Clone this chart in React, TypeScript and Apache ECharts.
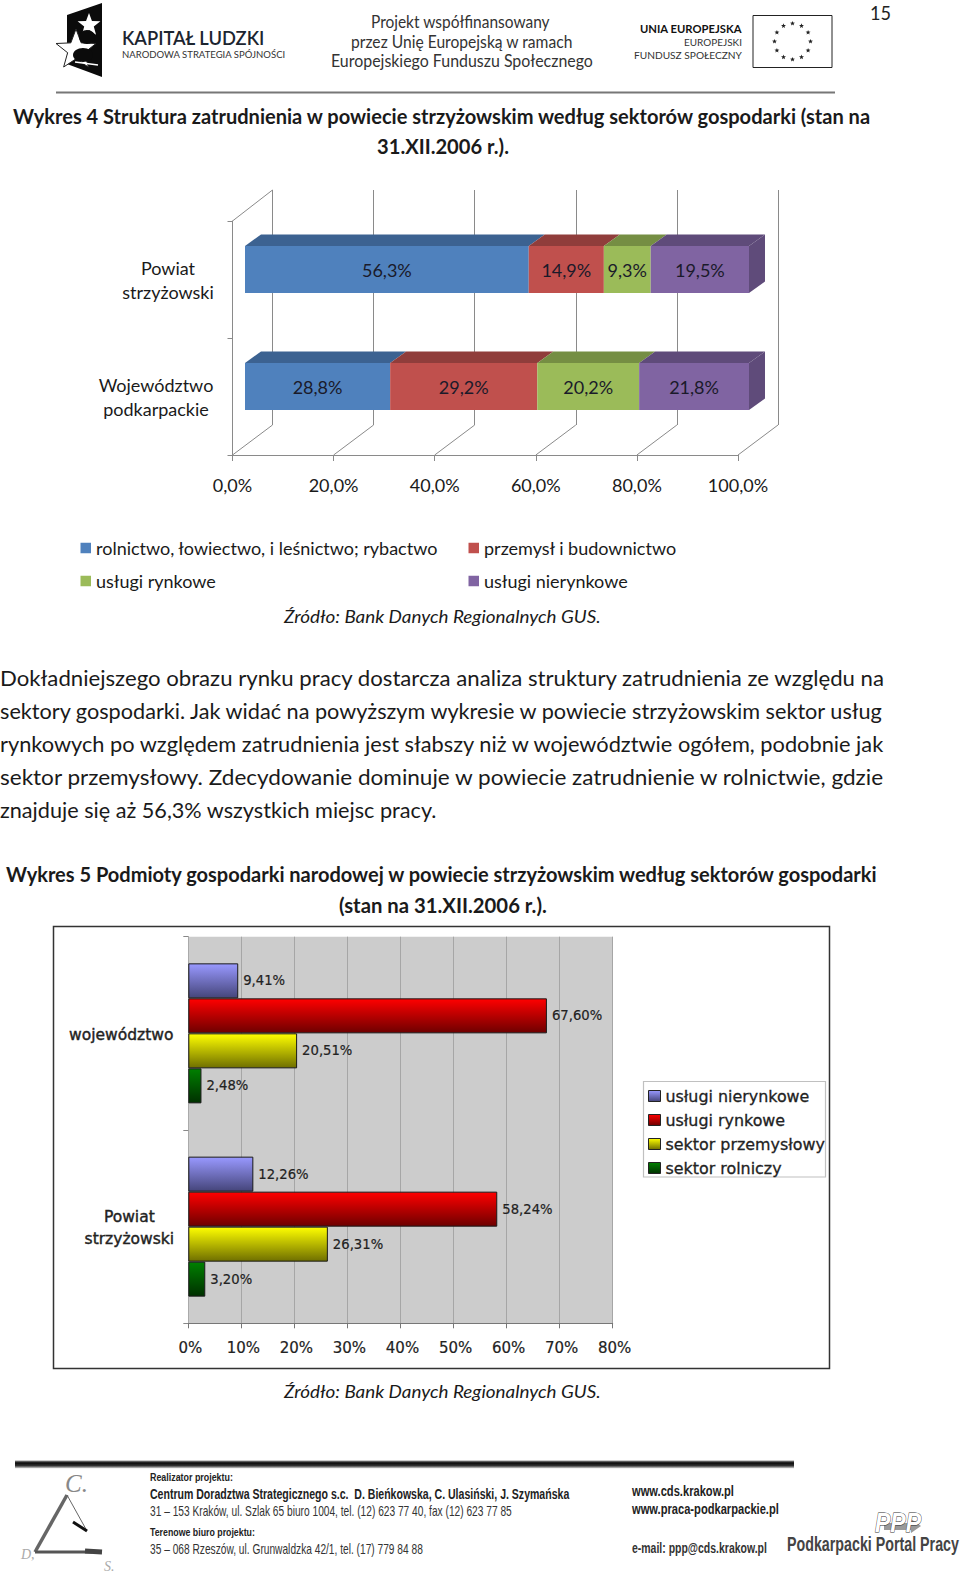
import React, { useEffect, useRef } from "react";
import * as echarts from "echarts";

// ---------- chart 1 data ----------
const areas1 = ["Powiat\nstrzyżowski", "Województwo\npodkarpackie"];
const sectors1 = ["rolnictwo, łowiectwo, i leśnictwo; rybactwo", "przemysł i budownictwo", "usługi rynkowe", "usługi nierynkowe"];
const rolnictwo = [56.3, 28.8];
const przemysl = [14.9, 29.2];
const rynkowe1 = [9.3, 20.2];
const nierynkowe1 = [19.5, 21.8];
const colors1 = ["#4f81bd", "#c0504d", "#9bbb59", "#8064a2"];
const shades1 = ["#3c6291", "#903d3b", "#758e43", "#5f4b7a"];

// ---------- chart 2 data ----------
const areas2 = ["województwo", "Powiat\nstrzyżowski"];
const sectors2 = ["usługi nierynkowe", "usługi rynkowe", "sektor przemysłowy", "sektor rolniczy"];
const nierynkowe2 = [9.41, 12.26];
const rynkowe2 = [67.6, 58.24];
const przemyslowy2 = [20.51, 26.31];
const rolniczy2 = [2.48, 3.2];
const gradStops = [["#9999ff", "#45457a"], ["#ff0000", "#6e0000"], ["#ffff00", "#6f6f00"], ["#008000", "#003000"]];

// ---------- page text ----------
const pageNumber = "15";
const title4 = ["Wykres 4 Struktura zatrudnienia w powiecie strzyżowskim według sektorów gospodarki (stan na", "31.XII.2006 r.)."];
const source = "Źródło: Bank Danych Regionalnych GUS.";
const paragraph = [
  "Dokładniejszego obrazu rynku pracy dostarcza analiza struktury zatrudnienia ze względu na",
  "sektory gospodarki. Jak widać na powyższym wykresie w powiecie strzyżowskim sektor usług",
  "rynkowych po względem zatrudnienia jest słabszy niż w województwie ogółem, podobnie jak",
  "sektor przemysłowy. Zdecydowanie dominuje w powiecie zatrudnienie w rolnictwie, gdzie",
  "znajduje się aż 56,3% wszystkich miejsc pracy.",
];
const title5 = ["Wykres 5 Podmioty gospodarki narodowej w powiecie strzyżowskim według sektorów gospodarki", "(stan na 31.XII.2006 r.)."];

const BODY = "Lato";
const ARIAL = "Liberation Sans";
const WIDE = "DejaVu Sans";
const comma = (v: number, d: number) => v.toFixed(d).replace(".", ",") + "%";

const measureCtx = document.createElement("canvas").getContext("2d")!;
function txt(text: string, x: number, y: number, o: any = {}) {
  const { size = 20, weight = "normal", fstyle = "normal", family = BODY, fill = "#1a1a1a", width, align = "left" } = o;
  let scaleX = 1;
  if (width) {
    measureCtx.font = `${fstyle} ${weight} ${size}px "${family}"`;
    scaleX = width / measureCtx.measureText(text).width;
  }
  return {
    type: "text", x, y, scaleX, z: 5,
    style: { text, fontSize: size, fontWeight: weight, fontStyle: fstyle, fontFamily: family, fill, textAlign: align, textVerticalAlign: "middle" },
  };
}
function star(cx: number, cy: number, r: number, fill: string, stroke?: string) {
  const pts: number[][] = [];
  for (let i = 0; i < 10; i++) {
    const a = -Math.PI / 2 + (i * Math.PI) / 5;
    const rr = i % 2 ? r * 0.42 : r;
    pts.push([cx + rr * Math.cos(a), cy + rr * Math.sin(a)]);
  }
  return { type: "polygon", z: 6, shape: { points: pts }, style: { fill, stroke, lineWidth: stroke ? 1 : 0 } };
}
const line = (x1: number, y1: number, x2: number, y2: number, stroke: string, lineWidth: number) => ({
  type: "line", z: 4, shape: { x1, y1, x2, y2 }, style: { stroke, lineWidth },
});

function pageGraphics() {
  const els: any[] = [];
  // header logos
  els.push({ type: "polygon", z: 4, shape: { points: [[67, 15], [102, 3], [102, 77], [67, 64]] }, style: { fill: "#0b0b0b" } });
  els.push(star(89, 25, 12, "#fff"));
  els.push(star(76, 50, 21, "#fff", "#222"));
  els.push({ type: "ellipse", z: 7, shape: { cx: 87, cy: 37, rx: 8, ry: 7 }, style: { fill: "#0b0b0b" } });
  els.push({ type: "ellipse", z: 7, shape: { cx: 83, cy: 55, rx: 10, ry: 7 }, style: { fill: "#0b0b0b" } });
  els.push(line(75, 62, 98, 65, "#fff", 1.5));
  els[els.length - 1].z = 8;
  els.push(txt("KAPITAŁ LUDZKI", 122, 38, { size: 19, weight: 600, fill: "#1c2530", width: 143 }));
  els.push(txt("NARODOWA STRATEGIA SPÓJNOŚCI", 122, 54, { size: 10, fill: "#333", width: 164 }));
  els.push(txt("Projekt współfinansowany", 371, 21, { size: 17, fill: "#333", width: 179 }));
  els.push(txt("przez Unię Europejską w ramach", 351, 41, { size: 17, fill: "#333", width: 222 }));
  els.push(txt("Europejskiego Funduszu Społecznego", 331, 61, { size: 17, fill: "#333", width: 262 }));
  els.push(txt("UNIA EUROPEJSKA", 640, 29, { size: 11, weight: "bold", fill: "#111", width: 102 }));
  els.push(txt("EUROPEJSKI", 684, 42, { size: 10, fill: "#333", width: 58 }));
  els.push(txt("FUNDUSZ SPOŁECZNY", 634, 55, { size: 10, fill: "#333", width: 108 }));
  els.push({ type: "rect", z: 4, shape: { x: 753, y: 15.5, width: 79, height: 52 }, style: { fill: "#fff", stroke: "#222", lineWidth: 1 } });
  for (let i = 0; i < 12; i++) {
    const a = (i * Math.PI) / 6;
    els.push(star(792.5 + 18 * Math.sin(a), 41.5 - 18 * Math.cos(a), 2.6, "#222"));
  }
  els.push(txt(pageNumber, 870, 12, { size: 20, fill: "#222", width: 21 }));
  els.push(line(56, 92.5, 835, 92.5, "#777", 2));

  // headings & body
  els.push(txt(title4[0], 13, 116, { weight: "bold", width: 859 }));
  els.push(txt(title4[1], 377, 146, { weight: "bold", width: 132 }));
  els.push(txt(source, 284, 616.5, { size: 18, fstyle: "italic", width: 317 }));
  const paraY = [678, 711, 744, 777, 809.5];
  paragraph.forEach((t, i) => els.push(txt(t, 0, paraY[i], { size: 20.5, width: i === 4 ? 437 : 886 })));
  els.push(txt(title5[0], 6, 874.5, { weight: "bold", width: 873 }));
  els.push(txt(title5[1], 339, 905.5, { weight: "bold", width: 208 }));
  els.push(txt(source, 284, 1391.5, { size: 18, fstyle: "italic", width: 317 }));

  // chart 2 frame and legend box
  els.push({ type: "rect", z: -1, shape: { x: 53.5, y: 926.5, width: 776, height: 442 }, style: { fill: "#fff", stroke: "#333", lineWidth: 1.5 } });
  els.push({ type: "rect", z: 1, shape: { x: 643.5, y: 1081.5, width: 182, height: 95.5 }, style: { fill: "#fff", stroke: "#c0c0c0", lineWidth: 1.2 } });

  // footer
  els.push({
    type: "rect", z: 4, shape: { x: 15, y: 1460.5, width: 779, height: 8 },
    style: { fill: new echarts.graphic.LinearGradient(0, 0, 0, 1, [{ offset: 0, color: "#999" }, { offset: 0.3, color: "#0a0a0a" }, { offset: 0.65, color: "#333" }, { offset: 1, color: "#e5e5e5" }]) },
  });
  els.push(txt("C.", 65, 1483, { size: 25, family: "Liberation Serif", fstyle: "italic", fill: "#888" }));
  els.push(line(67, 1495, 35, 1552, "#666", 3.5));
  els.push(line(35, 1552, 92, 1552, "#555", 3));
  els.push(line(85, 1551, 102, 1552, "#444", 5));
  els.push(line(67, 1495, 87, 1531, "#666", 1));
  els.push(line(73, 1522, 87, 1531, "#111", 3));
  els.push(txt("D,", 21, 1554, { size: 14, family: "Liberation Serif", fstyle: "italic", fill: "#aaa" }));
  els.push(txt("S.", 104, 1566, { size: 14, family: "Liberation Serif", fstyle: "italic", fill: "#aaa" }));
  const foot = ARIAL;
  els.push(txt("Realizator projektu:", 150, 1477, { size: 11, weight: "bold", family: foot, fill: "#222", width: 83 }));
  els.push(txt("Centrum Doradztwa Strategicznego s.c.  D. Bieńkowska, C. Ulasiński, J. Szymańska", 150, 1494, { size: 14, weight: "bold", family: foot, fill: "#222", width: 420 }));
  els.push(txt("31 – 153 Kraków, ul. Szlak 65 biuro 1004, tel. (12) 623 77 40, fax (12) 623 77 85", 150, 1511, { size: 14, family: foot, fill: "#333", width: 362 }));
  els.push(txt("Terenowe biuro projektu:", 150, 1532, { size: 11, weight: "bold", family: foot, fill: "#222", width: 105 }));
  els.push(txt("35 – 068 Rzeszów, ul. Grunwaldzka 42/1, tel. (17) 779 84 88", 150, 1549, { size: 14, family: foot, fill: "#333", width: 273 }));
  els.push(txt("www.cds.krakow.pl", 632, 1492, { size: 14, weight: "bold", family: foot, fill: "#222", width: 102 }));
  els.push(txt("www.praca-podkarpackie.pl", 632, 1510, { size: 14, weight: "bold", family: foot, fill: "#222", width: 147 }));
  els.push(txt("e-mail: ppp@cds.krakow.pl", 632, 1548, { size: 14, weight: "bold", family: foot, fill: "#333", width: 135 }));
  els.push({ type: "polygon", z: 4, shape: { points: [[884, 1523], [911, 1523], [911, 1519], [921, 1526], [911, 1533], [911, 1530], [884, 1530]] }, style: { fill: "#999" } });
  els.push(txt("PPP", 875, 1522, { size: 28, weight: "bold", fstyle: "italic", family: ARIAL, fill: "#fff", width: 46 }));
  els[els.length - 1].style.stroke = "#333";
  els[els.length - 1].style.lineWidth = 1;
  els.push(txt("Podkarpacki Portal Pracy", 787, 1544, { size: 20, weight: "bold", family: foot, fill: "#444", width: 172 }));
  return els;
}

function buildOption() {
  const values1 = [rolnictwo, przemysl, rynkowe1, nierynkowe1];
  const values2 = [nierynkowe2, rynkowe2, przemyslowy2, rolniczy2];
  const grads = gradStops.map(([a, b]) => new echarts.graphic.LinearGradient(0, 0, 0, 1, [{ offset: 0, color: a }, { offset: 1, color: b }]));

  // faces of the 3D bars built from the same values
  const faces: number[][] = [];
  areas1.forEach((_, c) => {
    let sum = 0;
    values1.forEach((vals, s) => {
      faces.push([sum, sum + vals[c], c, s]);
      sum += vals[c];
    });
  });
  const BAR = 47, DX = 16, DY = 11.5;
  const renderFaces = (_: any, api: any) => {
    const a = api.coord([api.value(0), api.value(2)]);
    const b = api.coord([api.value(1), api.value(2)]);
    const s = api.value(3);
    const top = a[1] - BAR / 2;
    const children: any[] = [{
      type: "polygon",
      shape: { points: [[a[0], top], [b[0], top], [b[0] + DX, top - DY], [a[0] + DX, top - DY]] },
      style: { fill: shades1[s] },
    }];
    if (s === 3) {
      children.push({
        type: "polygon",
        shape: { points: [[b[0], top], [b[0] + DX, top - DY], [b[0] + DX, top - DY + BAR], [b[0], top + BAR]] },
        style: { fill: shades1[s] },
      });
    }
    return { type: "group", children };
  };
  const WALL = "#8a8a8a";
  const renderFloor = (params: any, api: any) => {
    const v = api.value(0);
    const x = api.coord([v, 0])[0];
    const y = params.coordSys.y + params.coordSys.height;
    const top = params.coordSys.y;
    const children: any[] = [{ type: "line", shape: { x1: x, y1: y, x2: x + 40, y2: y - 30 }, style: { stroke: WALL, lineWidth: 1 } }];
    if (v === 0) children.push({ type: "line", shape: { x1: x, y1: top, x2: x + 40, y2: top - 31 }, style: { stroke: WALL, lineWidth: 1 } });
    return { type: "group", children };
  };
  const richLabel = (width: number, family: string, size: number, extra: any = {}) => ({ width, align: "center", fontFamily: family, fontSize: size, lineHeight: size + 6, ...extra });

  const legendBase = { selectedMode: false, orient: "vertical", icon: "rect", padding: 0 };
  const legend1Text = { fontFamily: BODY, fontSize: 18, color: "#1a1a1a", lineHeight: 20 };
  const legend1 = (left: number, idx: number[]) => ({
    ...legendBase, left, top: 538, itemWidth: 10.5, itemHeight: 10.5, itemGap: 13,
    textStyle: legend1Text,
    data: idx.map((i) => ({ name: sectors1[i], itemStyle: { color: colors1[i], borderWidth: 0 } })),
  });
  const chart2Rich = { color: "#222", lineHeight: 22, textBorderColor: "#222", textBorderWidth: 0.4 };

  return {
    animation: false,
    backgroundColor: "#fff",
    graphic: { elements: pageGraphics() },
    legend: [
      legend1(80.5, [0, 2]),
      legend1(468.5, [1, 3]),
      {
        ...legendBase, left: 648, top: 1087, itemWidth: 12, itemHeight: 11, itemGap: 6, z: 6,
        textStyle: { fontFamily: WIDE, fontSize: 15.9, color: "#222", lineHeight: 18, textBorderColor: "#222", textBorderWidth: 0.3 },
        data: sectors2.map((name, i) => ({ name, itemStyle: { color: grads[i], borderColor: "#222", borderWidth: 1 } })),
      },
    ],
    grid: [
      { left: 232.5, width: 505.5, top: 221, height: 234 },
      { left: 245, width: 504, top: 211, height: 234 },
      { left: 272.5, width: 505.5, top: 190, height: 235 },
      { left: 188.3, width: 424.4, top: 936.7, height: 386.6, show: true, backgroundColor: "#cccccc", borderWidth: 0 },
    ],
    xAxis: [
      {
        gridIndex: 0, type: "value", min: 0, max: 100, interval: 20,
        axisLine: { show: true, lineStyle: { color: WALL } }, axisTick: { show: true, length: 6, lineStyle: { color: WALL } },
        splitLine: { show: false },
        axisLabel: { margin: 21, fontFamily: BODY, fontSize: 18, color: "#1a1a1a", formatter: (v: number) => comma(v, 1), hideOverlap: false },
      },
      { gridIndex: 1, type: "value", min: 0, max: 100, show: false },
      {
        gridIndex: 2, type: "value", min: 0, max: 100, interval: 20,
        axisLine: { show: false }, axisTick: { show: false }, axisLabel: { show: false },
        splitLine: { show: true, lineStyle: { color: WALL, width: 1 } },
      },
      {
        gridIndex: 3, type: "value", min: 0, max: 80, interval: 10,
        axisLine: { show: true, lineStyle: { color: "#777" } }, axisTick: { show: true, length: 5, lineStyle: { color: "#777" } },
        splitLine: { show: true, lineStyle: { color: "#a6a6a6", width: 1 } },
        axisLabel: { margin: 17, padding: [0, 0, 0, 4], fontFamily: WIDE, fontSize: 15, color: "#222", textBorderColor: "#222", textBorderWidth: 0.2, formatter: (v: number) => v + "%" },
      },
    ],
    yAxis: [
      {
        gridIndex: 0, type: "category", data: areas1, inverse: true,
        axisLine: { show: true, lineStyle: { color: WALL } }, axisTick: { show: true, length: 5, lineStyle: { color: WALL } },
        axisLabel: {
          margin: 18.5, align: "right",
          formatter: (v: string) => {
            const key = v.startsWith("Powiat") ? "a" : "b";
            return v.split("\n").map((l) => `{${key}|${l}}`).join("\n");
          },
          rich: { a: richLabel(92, BODY, 18, { color: "#1a1a1a" }), b: richLabel(116, BODY, 18, { color: "#1a1a1a" }) },
        },
      },
      { gridIndex: 1, type: "category", data: areas1, inverse: true, show: false },
      { gridIndex: 2, type: "value", min: 0, max: 1, show: false },
      {
        gridIndex: 3, type: "category", data: areas2, inverse: true,
        axisLine: { show: true, lineStyle: { color: "#aaa" } }, axisTick: { show: true, length: 5, lineStyle: { color: "#888" } },
        axisLabel: {
          margin: 13, align: "right", padding: [3, 0, 0, 0],
          formatter: (v: string) => {
            const key = v.startsWith("Powiat") ? "c" : "d";
            return v.split("\n").map((l) => `{${key}|${l}}`).join("\n");
          },
          rich: { c: richLabel(92, WIDE, 15.5, chart2Rich), d: richLabel(108, WIDE, 15.5, chart2Rich) },
        },
      },
    ],
    series: [
      { type: "custom", silent: true, xAxisIndex: 0, yAxisIndex: 0, z: 1, clip: false, data: [0, 20, 40, 60, 80, 100].map((v) => [v, 0]), renderItem: renderFloor },
      { type: "custom", silent: true, xAxisIndex: 1, yAxisIndex: 1, z: 2, clip: false, data: faces, renderItem: renderFaces },
      ...values1.map((data, i) => ({
        type: "bar", name: sectors1[i], stack: "s", xAxisIndex: 1, yAxisIndex: 1, barWidth: BAR, z: 3, data,
        itemStyle: { color: colors1[i] },
        label: { show: true, position: "inside", fontFamily: BODY, fontSize: 18, color: "#1a1a2a", formatter: (p: any) => comma(p.value, 1) },
      })),
      ...values2.map((data, i) => ({
        type: "bar", name: sectors2[i], xAxisIndex: 3, yAxisIndex: 3, barWidth: 35, barGap: 0, z: 3, data,
        itemStyle: { color: grads[i], borderColor: "#1a1a1a", borderWidth: 1 },
        label: { show: true, position: "right", distance: 5, fontFamily: WIDE, fontSize: 13.2, color: "#222", textBorderColor: "#222", textBorderWidth: 0.2, formatter: (p: any) => comma(p.value, 2) },
      })),
    ],
  };
}

export default function App() {
  const ref = useRef<HTMLDivElement>(null);
  useEffect(() => {
    const chart = echarts.init(ref.current!, null, { renderer: "svg" });
    chart.setOption(buildOption() as any);
    return () => chart.dispose();
  }, []);
  return <div ref={ref} style={{ position: "fixed", left: 0, top: 0, width: 960, height: 1575 }} />;
}
